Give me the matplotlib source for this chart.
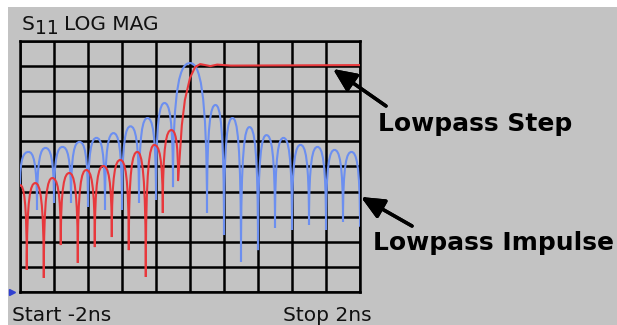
import matplotlib
matplotlib.use('Agg')
import matplotlib.pyplot as plt
from matplotlib.path import Path
from matplotlib.patches import PathPatch, Rectangle

# time axis: -2 ns .. 2 ns, 10 div; magnitude axis: 10 dB/div, -100 .. 0 dB
# impulse response: nulls and lobe tops (ns, dB)
blue_null_t = [-2.0, -1.8, -1.6, -1.4, -1.2, -1.0, -0.8, -0.6, -0.4, -0.2,
               0.2, 0.4, 0.6, 0.8, 1.0, 1.2, 1.4, 1.6, 1.8, 2.0]
blue_null_db = [-58, -67.3, -64.5, -64.5, -66.1, -67.3, -67.3, -64.5, -63.3, -58.2,
                -68.5, -77.3, -88, -83.3, -74.5, -75.3, -73.3, -75.3, -72.1, -74]
blue_top_t = [-1.9, -1.7, -1.5, -1.3, -1.1, -0.9, -0.7, -0.5, -0.3, 0.0,
              0.3, 0.5, 0.7, 0.9, 1.1, 1.3, 1.5, 1.7, 1.9]
blue_top_db = [-44.2, -42.6, -42.2, -40.2, -38.6, -36.7, -34.0, -30.7, -24.7, -8.8,
               -25.5, -30.7, -34.3, -37.5, -38.6, -41.4, -42.2, -43.4, -44.2]

# step response: ripples before the edge, then the edge and the flat part
red_start = (-2.0, -57.4)
red_null_t = [-1.92, -1.72, -1.52, -1.32, -1.12, -0.92, -0.72, -0.52, -0.32, -0.14]
red_null_db = [-91.2, -94.4, -81.3, -88.4, -82.1, -78.1, -83.3, -94.0, -68.5, -55.4]
red_top_t = [-1.82, -1.62, -1.42, -1.22, -1.02, -0.82, -0.62, -0.42, -0.22]
red_top_db = [-56.6, -54.6, -52.6, -51.4, -49.8, -47.4, -44.2, -41.4, -35.5]
red_edge_t = [-0.14, -0.096, -0.06, 0.0, 0.06, 0.12, 0.24, 0.32, 0.48, 2.0]
red_edge_db = [-55.4, -33.5, -23.5, -14.7, -10.4, -9.2, -10.0, -9.4, -9.8, -9.6]

BG = '#c3c3c3'
BLUE = '#6c8ff0'
RED = '#e8383c'


def lobe_path(points):
    # points alternate null/top; steep sides at nulls, round tops
    verts = [points[0]]
    codes = [Path.MOVETO]
    for (x0, y0), (x1, y1) in zip(points[:-1], points[1:]):
        if y1 > y0:  # null -> top
            c1 = (x0, y0 + 0.85 * (y1 - y0))
            c2 = (x0 + 0.45 * (x1 - x0), y1)
        else:  # top -> null
            c1 = (x0 + 0.55 * (x1 - x0), y0)
            c2 = (x1, y1 + 0.85 * (y0 - y1))
        verts += [c1, c2, (x1, y1)]
        codes += [Path.CURVE4] * 3
    return Path(verts, codes)


fig = plt.figure(figsize=(6.17, 3.25), dpi=100, facecolor='white')
fig.patches.append(Rectangle((8 / 617, 0), 1, 1 - 7 / 325, transform=fig.transFigure,
                             facecolor=BG, edgecolor='none', zorder=-10))

ax = fig.add_axes([20 / 617, 33 / 325, 340 / 617, 251 / 325])
ax.set_facecolor(BG)
ax.set_xlim(-2, 2)
ax.set_ylim(-100, 0)
ax.set_xticks([-2 + 0.4 * i for i in range(11)])
ax.set_yticks([-100 + 10 * i for i in range(11)])
ax.tick_params(length=0, labelbottom=False, labelleft=False)
ax.grid(True, color='black', linewidth=1.8)
for s in ax.spines.values():
    s.set_linewidth(1.8)
    s.set_color('black')

# blue impulse
pts = []
nulls = list(zip(blue_null_t, blue_null_db))
tops = list(zip(blue_top_t, blue_top_db))
for i in range(len(tops)):
    pts.append(nulls[i])
    pts.append(tops[i])
pts.append(nulls[-1])
ax.add_patch(PathPatch(lobe_path(pts), fill=False, edgecolor=BLUE, linewidth=1.5, zorder=3))

# red step
pts = [red_start]
rn = list(zip(red_null_t, red_null_db))
rt = list(zip(red_top_t, red_top_db))
for i in range(len(rt)):
    pts.append(rn[i])
    pts.append(rt[i])
pts.append(rn[-1])
ax.add_patch(PathPatch(lobe_path(pts), fill=False, edgecolor=RED, linewidth=1.5, zorder=4))
ax.plot(red_edge_t, red_edge_db, color=RED, linewidth=1.5, zorder=4)

# marker at bottom left
ax.plot([-2.095], [-100], marker='>', color='#3040d0', markersize=5, clip_on=False)

# texts
txt = dict(family='DejaVu Sans', color='#111111')
fig.text(22 / 617, 1 - 30 / 325, 'S', fontsize=14.5, **txt)
fig.text(35 / 617, 1 - 34 / 325, '11', fontsize=13.5, **txt)
fig.text(64 / 617, 1 - 30 / 325, 'LOG MAG', fontsize=14.5, **txt)
fig.text(12 / 617, 1 - 321 / 325, 'Start -2ns', fontsize=14.5, **txt)
fig.text(283 / 617, 1 - 321 / 325, 'Stop 2ns', fontsize=14.5, **txt)
fig.text(378 / 617, 1 - 131 / 325, 'Lowpass Step', fontsize=18, fontweight='bold',
         family='DejaVu Sans', color='black')
fig.text(373 / 617, 1 - 250 / 325, 'Lowpass Impulse', fontsize=18, fontweight='bold',
         family='DejaVu Sans', color='black')

arrow = dict(arrowstyle='-|>,head_length=1.0,head_width=0.45', color='black',
             linewidth=2.5, mutation_scale=14, shrinkA=0, shrinkB=0)
fig.add_artist(plt.annotate('', xy=(333, 325 - 69), xytext=(386, 325 - 106),
                            xycoords='figure pixels', arrowprops=arrow))
fig.add_artist(plt.annotate('', xy=(361, 325 - 197), xytext=(412, 325 - 226),
                            xycoords='figure pixels', arrowprops=arrow))

fig.savefig('out.png', dpi=100, facecolor='white')
